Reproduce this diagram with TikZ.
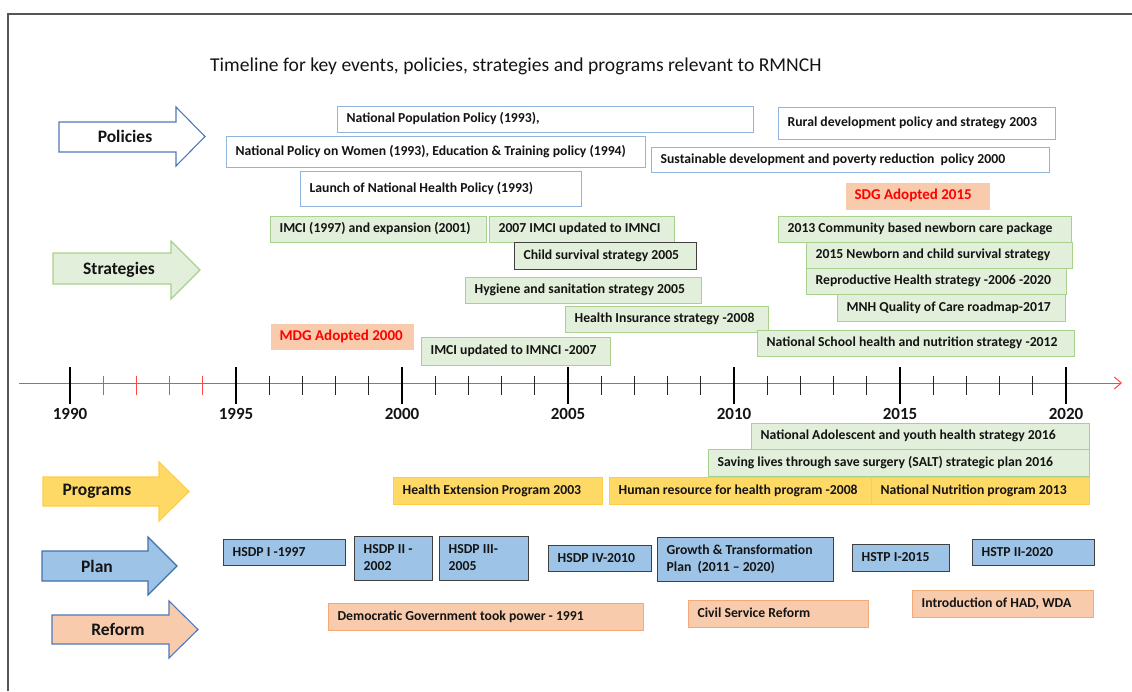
\documentclass[tikz,border=0pt]{standalone}
\usepackage{fontspec}
\setmainfont{Carlito}
\usetikzlibrary{arrows.meta}

\definecolor{polstroke}{RGB}{143,180,222}
\definecolor{grnfill}{RGB}{226,239,218}
\definecolor{grnstroke}{RGB}{169,209,142}
\definecolor{orgfill}{RGB}{248,203,173}
\definecolor{orgstroke}{RGB}{244,170,120}
\definecolor{ylwfill}{RGB}{255,217,102}
\definecolor{ylwstroke}{RGB}{255,204,70}
\definecolor{plnfill}{RGB}{157,195,230}
\definecolor{plnstroke}{RGB}{64,64,64}
\definecolor{arrblue}{RGB}{80,120,185}
\definecolor{arrplan}{RGB}{65,113,170}
\definecolor{axisred}{RGB}{255,70,70}
\definecolor{framegray}{RGB}{85,85,85}
\definecolor{txt}{RGB}{20,20,20}

\tikzset{
  box/.style={line width=1.2pt, anchor=north west, inner xsep=9pt, inner ysep=0pt,
    font=\bfseries\fontsize{13.7}{16.5}\selectfont, text=txt},
  policy/.style={box, draw=polstroke, fill=white},
  strat/.style={box, draw=grnstroke, fill=grnfill},
  stratdark/.style={box, draw=plnstroke, fill=grnfill},
  event/.style={box, fill=orgfill, text=red, font=\bfseries\fontsize{15}{18}\selectfont},
  prog/.style={box, draw=ylwstroke, fill=ylwfill},
  plan/.style={box, draw=plnstroke, line width=1.4pt, fill=plnfill},
  reform/.style={box, draw=orgstroke, fill=orgfill},
  arrlabel/.style={font=\bfseries\fontsize{17.5}{20}\selectfont, text=txt},
  yearlabel/.style={font=\bfseries\fontsize{17}{20}\selectfont, text=txt},
  bigarrow/.style={line width=1.1pt, line join=miter},
  axis/.style={draw=axisred, line width=1pt},
  majortick/.style={draw=black, line width=1.6pt},
  minortick/.style={draw=black!85, line width=0.9pt},
  redtick/.style={draw=axisred, line width=0.9pt},
}

% labelled box: name, style, x1, y1, x2, y2, text (pixel-like units, y downwards)
\newcommand\tbox[7]{%
  \pgfmathsetmacro\bw{#5-#3-18}%
  \pgfmathsetmacro\bh{#6-#4}%
  \node[#2, minimum height=\bh pt] (#1) at (#3,-#4)
    {\makebox[\bw pt][l]{\begin{tabular}{@{}l@{}}#7\end{tabular}}};}

% block arrow: style, left x, head base x, tip x, shaft top, shaft bottom, head top, head bottom
\newcommand\barrow[8]{%
  \pgfmathsetmacro\tipy{(#7+#8)/2}%
  \draw[bigarrow,#1] (#2,-#5) -- (#3,-#5) -- (#3,-#7) -- (#4,-\tipy)
    -- (#3,-#8) -- (#3,-#6) -- (#2,-#6) -- cycle;}

\begin{document}
\begin{tikzpicture}[x=1pt,y=1pt]
\useasboundingbox (0,0) rectangle (1132,-691);

% frame
\draw[framegray, line width=1.5pt] (8,-691) -- (8,-14) -- (1132,-14);

% title
\node[anchor=base west, inner sep=0pt, font=\fontsize{19.6}{23}\selectfont, text=txt] (title) at (210,-71)
  {Timeline for key events, policies, strategies and programs relevant to RMNCH};

% category arrows
\barrow{draw=arrblue, fill=white}{59}{176}{205}{122}{152}{107}{166}
\node[arrlabel] (lpol) at (125,-136) {Policies};
\barrow{draw=grnstroke, fill=grnfill}{53}{171}{200}{253}{284}{241}{299}
\node[arrlabel] (lstr) at (119,-270) {Strategies};
\barrow{draw=ylwstroke, fill=ylwfill}{43}{159}{189}{477}{506}{462}{521}
\node[arrlabel] (lprg) at (97,-491) {Programs};
\barrow{draw=arrplan, fill=plnfill}{42}{148}{177}{551}{581}{537}{595}
\node[arrlabel] (lpln) at (97,-566) {Plan};
\barrow{draw=arrblue, fill=orgfill}{52}{169}{198}{615}{644}{601}{658}
\node[arrlabel] (lref) at (118,-629) {Reform};

% policies
\tbox{p1}{policy}{337}{106}{753}{132}{National Population Policy (1993),}
\tbox{p2}{policy}{226}{136}{645}{167}{National Policy on Women (1993), Education \& Training policy (1994)}
\tbox{p3}{policy}{300}{171}{581}{206}{Launch of National Health Policy (1993)}
\tbox{p4}{policy}{778}{107}{1055}{139}{Rural development policy and strategy 2003}
\tbox{p5}{policy}{651}{147}{1049}{172}{Sustainable development and poverty reduction\ \ policy 2000}

% global goals
\tbox{sdg}{event}{845}{182}{989}{209}{SDG Adopted 2015}
\tbox{mdg}{event}{270}{323}{413}{349}{MDG Adopted 2000}

% strategies
\tbox{s1}{strat}{270}{216}{486}{242}{IMCI (1997) and expansion (2001)}
\tbox{s2}{strat}{489}{216}{674}{242}{2007 IMCI updated to IMNCI}
\tbox{s3}{stratdark}{514}{242}{696}{269}{Child survival strategy 2005}
\tbox{s4}{strat}{465}{277}{701}{303}{Hygiene and sanitation strategy 2005}
\tbox{s5}{strat}{565}{306}{768}{332}{Health Insurance strategy -2008}
\tbox{s6}{strat}{421}{337}{610}{365}{IMCI updated to IMNCI -2007}
\tbox{s7}{strat}{757}{330}{1074}{356}{National School health and nutrition strategy -2012}
\tbox{s8}{strat}{778}{216}{1071}{242}{2013 Community based newborn care package}
\tbox{s9}{strat}{806}{242}{1072}{268}{2015 Newborn and child survival strategy}
\tbox{s10}{strat}{806}{268}{1066}{294}{Reproductive Health strategy -2006 -2020}
\tbox{s11}{strat}{837}{294}{1065}{321}{MNH Quality of Care roadmap-2017}

% time axis
\coordinate (axL) at (19,-383);
\coordinate (axR) at (1122,-383);
\draw[axis, -{Straight Barb[length=7pt, width=12pt]}] (axL) -- (axR);
\foreach \yr in {1991,...,2019}{
  \pgfmathsetmacro\tx{70+(\yr-1990)*33.2}
  \ifnum\yr<1995
    \draw[redtick] (\tx,-376) -- (\tx,-395);
  \else
    \draw[minortick] (\tx,-376) -- (\tx,-395);
  \fi
}
\foreach \yr in {1990,1995,2000,2005,2010,2015,2020}{
  \pgfmathsetmacro\tx{70+(\yr-1990)*33.2}
  \draw[majortick] (\tx,-367) -- (\tx,-404);
  \node[yearlabel] (y\yr) at (\tx,-414) {\yr};
}

% strategies below the axis
\tbox{s12}{strat}{751}{423}{1089}{449}{National Adolescent and youth health strategy 2016}
\tbox{s13}{strat}{708}{449}{1089}{476}{Saving lives through save surgery (SALT) strategic plan 2016}

% programs
\tbox{g1}{prog}{393}{477}{602}{504}{Health Extension Program 2003}
\tbox{g2}{prog}{609}{477}{871}{504}{Human resource for health program -2008}
\tbox{g3}{prog}{871}{477}{1089}{504}{National Nutrition program 2013}

% plans
\tbox{h1}{plan}{223}{539}{345}{565}{HSDP I -1997}
\tbox{h2}{plan}{354}{536}{432}{580}{HSDP II -\\2002}
\tbox{h3}{plan}{439}{536}{528}{580}{HSDP III-\\2005}
\tbox{h4}{plan}{548}{545}{651}{571}{HSDP IV-2010}
\tbox{h5}{plan}{657}{537}{833}{581}{Growth \& Transformation\\Plan\ \ (2011 – 2020)}
\tbox{h6}{plan}{852}{544}{949}{571}{HSTP I-2015}
\tbox{h7}{plan}{972}{539}{1094}{565}{HSTP II-2020}

% reforms
\tbox{r1}{reform}{328}{603}{643}{630}{Democratic Government took power - 1991}
\tbox{r2}{reform}{688}{600}{868}{627}{Civil Service Reform}
\tbox{r3}{reform}{912}{590}{1093}{617}{Introduction of HAD, WDA}

\end{tikzpicture}
\end{document}
